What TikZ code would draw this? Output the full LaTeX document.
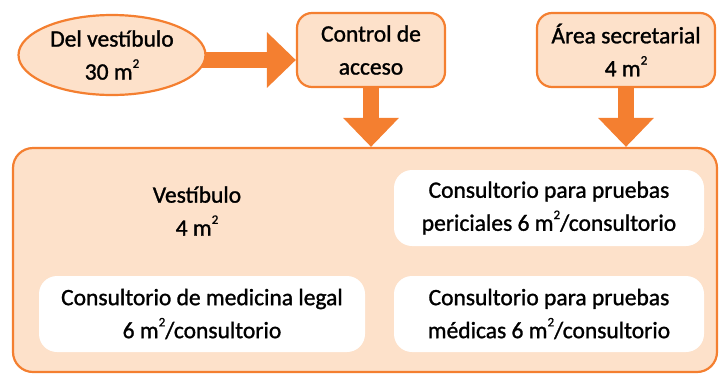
\documentclass[tikz,border=0pt]{standalone}
\usepackage{fontspec}
\setmainfont{Carlito}[FakeBold=1.2]
\usetikzlibrary{shapes.geometric,arrows.meta,backgrounds}
\definecolor{orng}{HTML}{F47F30}
\definecolor{peach}{HTML}{FDE1CA}
\newcommand{\msq}{m\raisebox{0.5em}{\fontsize{13}{13}\selectfont 2}}
\tikzset{
  txt/.style={font=\fontsize{23.5}{33}\selectfont, align=center, text=black},
  topbox/.style={txt, draw=orng, line width=2.2pt, fill=peach, rounded corners=15pt, inner sep=0pt},
  inbox/.style={txt, fill=white, rounded corners=18pt, inner sep=0pt},
  bigarrow/.style={orng, line width=16pt, -{Triangle[width=54pt,length=29pt]}}
}
\begin{document}
\begin{tikzpicture}[x=1pt,y=-1pt]
\useasboundingbox (0,0) rectangle (719,373);
\node[txt, ellipse, draw=orng, line width=2.2pt, fill=peach, minimum width=187pt, minimum height=80pt, inner sep=0pt] (ell) at (112,55) {Del vestíbulo\\30 \msq};
\node[topbox, minimum width=148pt, minimum height=74pt] (ctl) at (371,50) {Control de\\acceso};
\node[topbox, minimum width=178pt, minimum height=74pt] (sec) at (626,50) {Área secretarial\\4 \msq};
\node[draw=orng, line width=2.2pt, fill=peach, rounded corners=20pt, minimum width=704pt, minimum height=224pt] (big) at (365,260) {};
\node[txt] (vest) at (197,211) {Vestíbulo\\4 \msq};
\node[inbox, minimum width=310pt, minimum height=76pt] (per) at (549,208) {Consultorio para pruebas\\periciales 6 \msq/consultorio};
\node[inbox, minimum width=326pt, minimum height=76pt] (leg) at (202,314) {Consultorio de medicina legal\\6 \msq/consultorio};
\node[inbox, minimum width=310pt, minimum height=76pt] (med) at (549,314) {Consultorio para pruebas\\médicas 6 \msq/consultorio};
\begin{scope}[on background layer]
\draw[bigarrow] ([yshift=-5pt]ell.east) ++(-6,0) coordinate (a0) -- (a0 -| ctl.west);
\draw[bigarrow] (ctl.south) -- (ctl.south |- big.north);
\draw[bigarrow] (sec.south) -- (sec.south |- big.north);
\end{scope}
\end{tikzpicture}
\end{document}
